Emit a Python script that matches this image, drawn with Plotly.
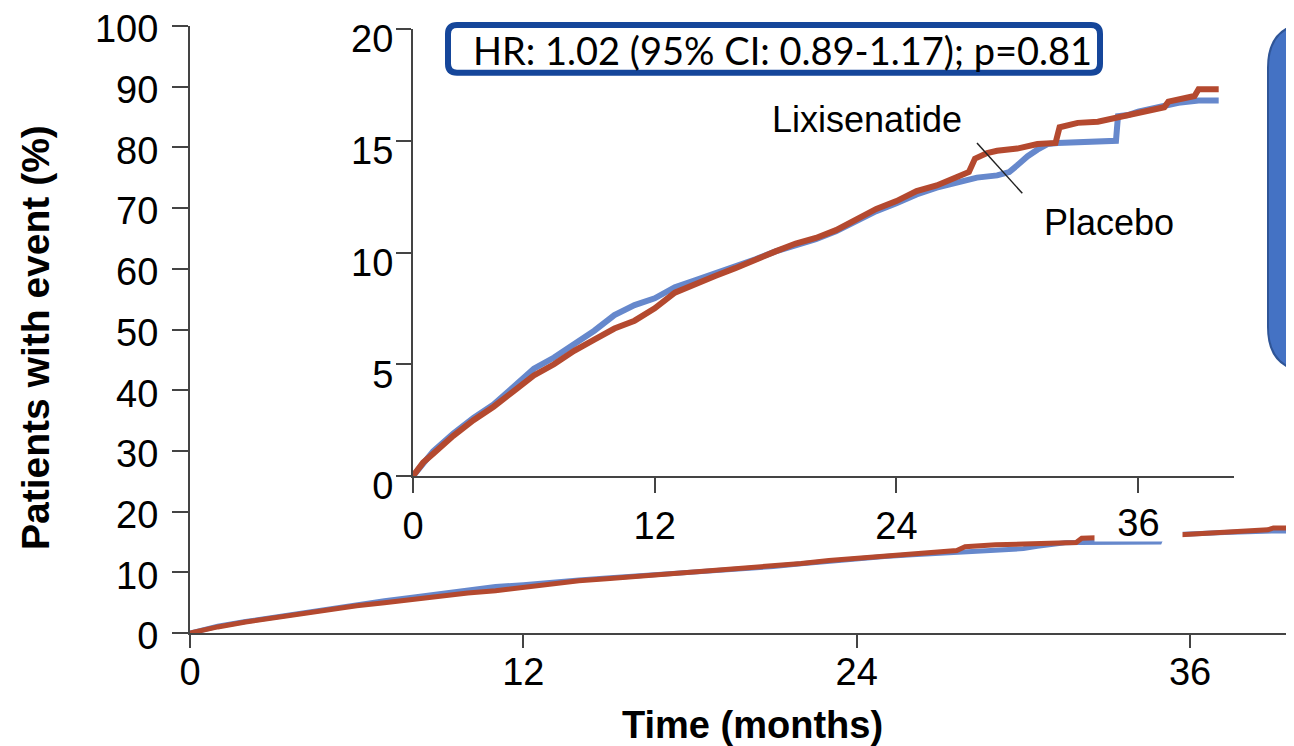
import plotly.graph_objects as go

# ---------------- data ----------------
placebo_t = [0, 0.5, 1, 2, 3, 4, 5, 6, 7, 8, 9, 10, 11, 12, 13, 14, 15, 16, 17, 18,
             19, 20, 21, 22, 23, 24, 25, 26, 27, 28, 29, 29.6, 30, 30.5, 31, 31.5,
             32, 33, 34, 34.9, 35, 35.5, 36, 37, 37.5, 38, 39, 40]
placebo_v = [0, 0.6, 1.1, 1.9, 2.6, 3.2, 4.0, 4.8, 5.3, 5.9, 6.5, 7.2, 7.65, 7.95, 8.45, 8.75, 9.05, 9.35, 9.7, 10.05,
             10.3, 10.6, 10.95, 11.4, 11.85, 12.2, 12.6, 12.9, 13.15, 13.35, 13.45, 13.6, 13.9, 14.3, 14.6, 14.85,
             14.9, 14.95, 15.0, 15.0, 16.1, 16.15, 16.3, 16.5, 16.6, 16.7, 16.8, 16.8]

lixi_t = [0, 0.5, 1, 2, 3, 4, 5, 6, 7, 8, 9, 10, 11, 12, 13, 14, 15, 16, 17, 18,
          19, 20, 21, 22, 23, 24, 25, 26, 27, 27.6, 27.9, 28.5, 29, 30, 31, 31.9,
          32.1, 33, 34, 34.5, 35, 35.5, 36, 37, 37.3, 37.5, 38, 38.8, 39.0, 40]
lixi_v = [0, 0.6, 1.0, 1.8, 2.5, 3.1, 3.8, 4.5, 5.0, 5.6, 6.1, 6.6, 6.95, 7.5, 8.2, 8.6, 8.95, 9.3, 9.7, 10.05,
          10.4, 10.65, 11.0, 11.45, 11.95, 12.3, 12.75, 13.0, 13.4, 13.6, 14.2, 14.45, 14.55, 14.65, 14.85, 14.9,
          15.6, 15.8, 15.85, 15.95, 16.05, 16.15, 16.3, 16.45, 16.5, 16.75, 16.85, 17.0, 17.3, 17.3]

main_y_ticks = [0, 10, 20, 30, 40, 50, 60, 70, 80, 90, 100]
inset_y_ticks = [0, 5, 10, 15, 20]
x_ticks = [0, 12, 24, 36]

hr_text = "HR: 1.02 (95% CI: 0.89-1.17); p=0.81"

assert len(placebo_t) == len(placebo_v)
assert len(lixi_t) == len(lixi_v)

BLUE = "#6688cc"
RED = "#b4492f"
AX = "#444444"

# page body adds an 8px offset: work in reference pixels, shift by OFF
OFF = 8
VW, VH = 1294, 746
W, H = VW - OFF, VH - OFF
# plot area in reference pixels
PL, PR, PT, PB = 190, 1294, 22, 633
ML, MT = PL - OFF, PT - OFF
MR, MB = W - (PR - OFF), H - (PB - OFF)
PW, PH = PR - PL, PB - PT


def px(x):
    return (x - PL) / PW


def py(y):
    return (PB - y) / PH


def rounded_path(x0, y0, x1, y1, r):
    pts = [
        f"M{px(x0 + r)},{py(y0)}",
        f"L{px(x1 - r)},{py(y0)}",
        f"Q{px(x1)},{py(y0)} {px(x1)},{py(y0 + r)}",
        f"L{px(x1)},{py(y1 - r)}",
        f"Q{px(x1)},{py(y1)} {px(x1 - r)},{py(y1)}",
        f"L{px(x0 + r)},{py(y1)}",
        f"Q{px(x0)},{py(y1)} {px(x0)},{py(y1 - r)}",
        f"L{px(x0)},{py(y0 + r)}",
        f"Q{px(x0)},{py(y0)} {px(x0 + r)},{py(y0)}",
        "Z",
    ]
    return " ".join(pts)


fig = go.Figure()

# main plot curves
fig.add_trace(go.Scatter(x=placebo_t, y=placebo_v, mode="lines", name="Placebo",
                         line=dict(color=BLUE, width=5), xaxis="x", yaxis="y", showlegend=False))
fig.add_trace(go.Scatter(x=lixi_t, y=lixi_v, mode="lines", name="Lixisenatide",
                         line=dict(color=RED, width=5), xaxis="x", yaxis="y", showlegend=False))
# inset curves
fig.add_trace(go.Scatter(x=placebo_t, y=placebo_v, mode="lines", name="Placebo",
                         line=dict(color=BLUE, width=6), xaxis="x2", yaxis="y2", showlegend=False))
fig.add_trace(go.Scatter(x=lixi_t, y=lixi_v, mode="lines", name="Lixisenatide",
                         line=dict(color=RED, width=6), xaxis="x2", yaxis="y2", showlegend=False))

tick_font = dict(family="Liberation Sans, Arial, sans-serif", size=38, color="black")

axis_common = dict(showgrid=False, zeroline=False, showline=True, linecolor=AX, linewidth=2,
                   ticks="outside", tickcolor=AX, tickwidth=2, tickfont=tick_font,
                   ticklabeloverflow="allow")

inset_x0, inset_x1 = 413, 1234
inset_y0, inset_y1 = 475, 25
inset_xmax = 40.76
main_xmax = (PR - PL) / 27.78

fig.update_layout(
    width=W, height=H,
    margin=dict(l=ML, r=MR, t=MT, b=MB, pad=0),
    paper_bgcolor="white", plot_bgcolor="rgba(0,0,0,0)",
    showlegend=False,
    xaxis=dict(domain=[0, 1], range=[0, main_xmax], tickvals=x_ticks, ticklen=13,
               ticklabelstandoff=-9, anchor="y", **axis_common),
    yaxis=dict(domain=[0, 1], range=[0, 100], tickvals=main_y_ticks, ticklen=16,
               ticklabelstandoff=6, ticklabelshift=3, anchor="x", **axis_common),
    xaxis2=dict(domain=[px(inset_x0), px(inset_x1)], range=[0, inset_xmax], tickvals=x_ticks,
                ticktext=["0", "12", "24", ""], ticklen=15, anchor="y2", **axis_common),
    yaxis2=dict(domain=[py(inset_y0), py(inset_y1)], range=[0, 20], tickvals=inset_y_ticks,
                ticklen=15, ticklabelstandoff=-5, ticklabelshift=10, anchor="x2", **axis_common),
)

# HR box (rounded) and blue box on the right
fig.add_shape(type="path", xref="paper", yref="paper",
              path=rounded_path(448, 21, 1100, 69, 9),
              line=dict(color="#15469a", width=6), fillcolor="white", layer="above")
fig.add_shape(type="path", xref="paper", yref="paper",
              path=rounded_path(1268, 19, 1360, 370, 45),
              line=dict(color="#2f5597", width=2), fillcolor="#4472c4", layer="above")

# leader line between labels (inset data coords)
fig.add_shape(type="line", xref="x2", yref="y2", x0=28.0, y0=14.9, x1=30.25, y1=12.65,
              line=dict(color="#222222", width=1.5))

fig.add_annotation(text=hr_text, xref="paper", yref="paper", x=px(782), y=py(46),
                   showarrow=False, font=dict(family="Lato, Carlito, sans-serif", size=38, color="black"),
                   xanchor="center", yanchor="middle")

label_font = dict(family="Liberation Sans, Arial, sans-serif", size=36, color="black")
fig.add_annotation(text="Lixisenatide", xref="x2", yref="y2", x=22.55, y=15.95, showarrow=False,
                   font=label_font, xanchor="center", yanchor="middle")
fig.add_annotation(text="Placebo", xref="x2", yref="y2", x=34.55, y=11.35, showarrow=False,
                   font=label_font, xanchor="center", yanchor="middle")

# inset "36" label sits on a white patch covering the main curve
fig.add_annotation(text="36", xref="x2", yref="paper", x=36.0, y=py(522), showarrow=False,
                   font=tick_font, bgcolor="white", width=87, height=36, borderpad=0,
                   xanchor="center", yanchor="middle")

# axis titles
fig.add_annotation(text="<b>Time (months)</b>", xref="paper", yref="paper", x=px(752), y=py(726),
                   showarrow=False, font=dict(family="Liberation Sans, Arial, sans-serif", size=38, color="black"),
                   xanchor="center", yanchor="middle")
fig.add_annotation(text="<b>Patients with event (%)</b>", xref="paper", yref="paper", x=px(36), y=py(336),
                   showarrow=False, font=dict(family="Liberation Sans, Arial, sans-serif", size=39, color="black"),
                   textangle=-90, xanchor="center", yanchor="middle")

fig.write_html("out.html")
